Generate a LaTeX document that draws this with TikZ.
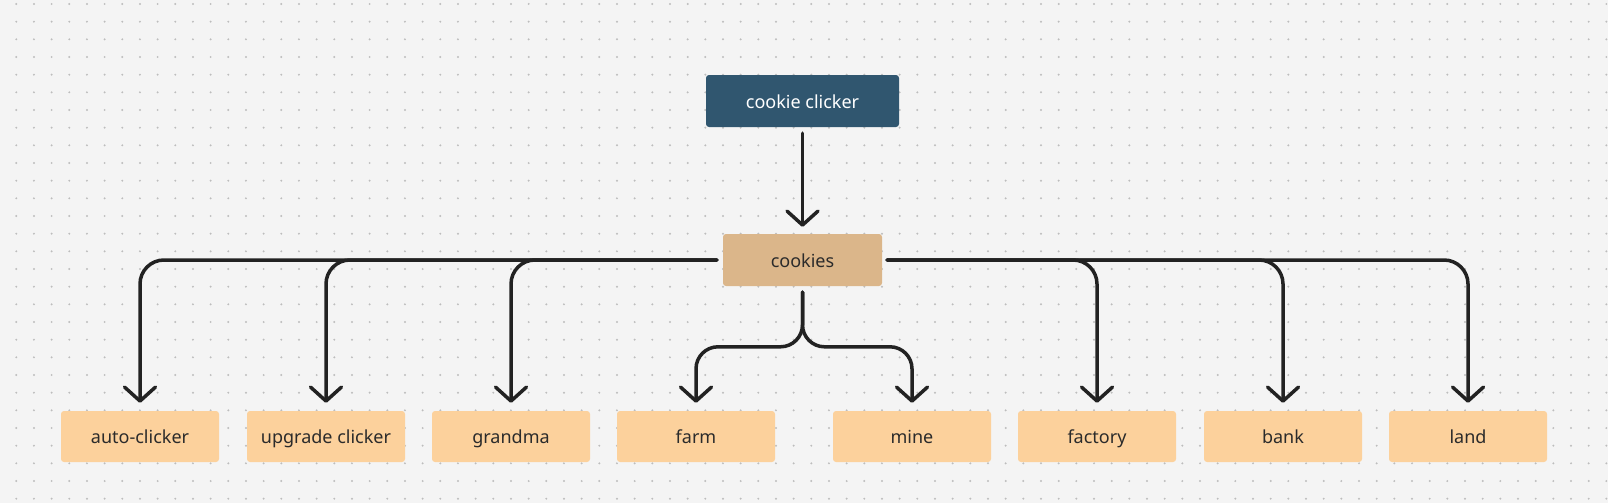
\documentclass[tikz,border=0pt]{standalone}
\usepackage{fontspec}
\setmainfont{Noto Sans}
\usetikzlibrary{arrows.meta}
\definecolor{bgc}{HTML}{F4F4F4}
\definecolor{dotc}{HTML}{BDBDBD}
\definecolor{topc}{HTML}{30566F}
\definecolor{midc}{HTML}{DBB68A}
\definecolor{leafc}{HTML}{FCD19C}
\definecolor{linec}{HTML}{222222}
\definecolor{txtc}{HTML}{2B2B2B}
\tikzset{
  box/.style={rectangle, rounded corners=3pt, inner sep=0pt, minimum height=52pt,
    font=\fontsize{18pt}{21pt}\selectfont, text=txtc, text height=16pt, text depth=2pt},
  topbox/.style={box, fill=topc, text=white, minimum width=193pt},
  midbox/.style={box, fill=midc, minimum width=159pt},
  leafbox/.style={box, fill=leafc, minimum width=158pt, minimum height=51pt},
  conn/.style={draw=linec, line width=3.5pt, line cap=round, line join=round,
    -{Straight Barb[length=14pt, width=31pt, line cap=round, line join=round]}},
}
\begin{document}
\begin{tikzpicture}[x=1pt, y=-1pt]
\fill[bgc] (0,0) rectangle (1608,503);
\useasboundingbox (0,0) rectangle (1608,503);
\foreach \i in {0,...,90}{
  \foreach \j in {0,...,28}{
    \fill[dotc] ({16.3+17.667*\i},{4+17.667*\j}) circle (1.1pt);
  }
}
\node[topbox] (cc) at (802.5,101) {cookie clicker};
\node[midbox] (ck) at (802.5,260) {cookies};
\node[leafbox] (auto) at (140,436.5) {auto-clicker};
\node[leafbox] (upg) at (326,436.5) {upgrade clicker};
\node[leafbox] (gran) at (511,436.5) {grandma};
\node[leafbox] (farm) at (696,436.5) {farm};
\node[leafbox] (mine) at (912,436.5) {mine};
\node[leafbox] (fact) at (1097,436.5) {factory};
\node[leafbox] (bank) at (1283,436.5) {bank};
\node[leafbox] (land) at (1468,436.5) {land};
\draw[conn] ([yshift=-6pt]cc.south) -- ([yshift=7pt]ck.north);
\foreach \n in {auto,upg,gran}{
  \draw[conn, rounded corners=24pt] ([xshift=-6pt]ck.west) -| ([yshift=8pt]\n.north);
}
\foreach \n in {fact,bank,land}{
  \draw[conn, rounded corners=24pt] ([xshift=5pt]ck.east) -| ([yshift=8pt]\n.north);
}
\foreach \n in {farm,mine}{
  \draw[conn, rounded corners=22pt] ([yshift=-6pt]ck.south) |- ([yshift=64pt]\n.north) -- ([yshift=8pt]\n.north);
}
\end{tikzpicture}
\end{document}
